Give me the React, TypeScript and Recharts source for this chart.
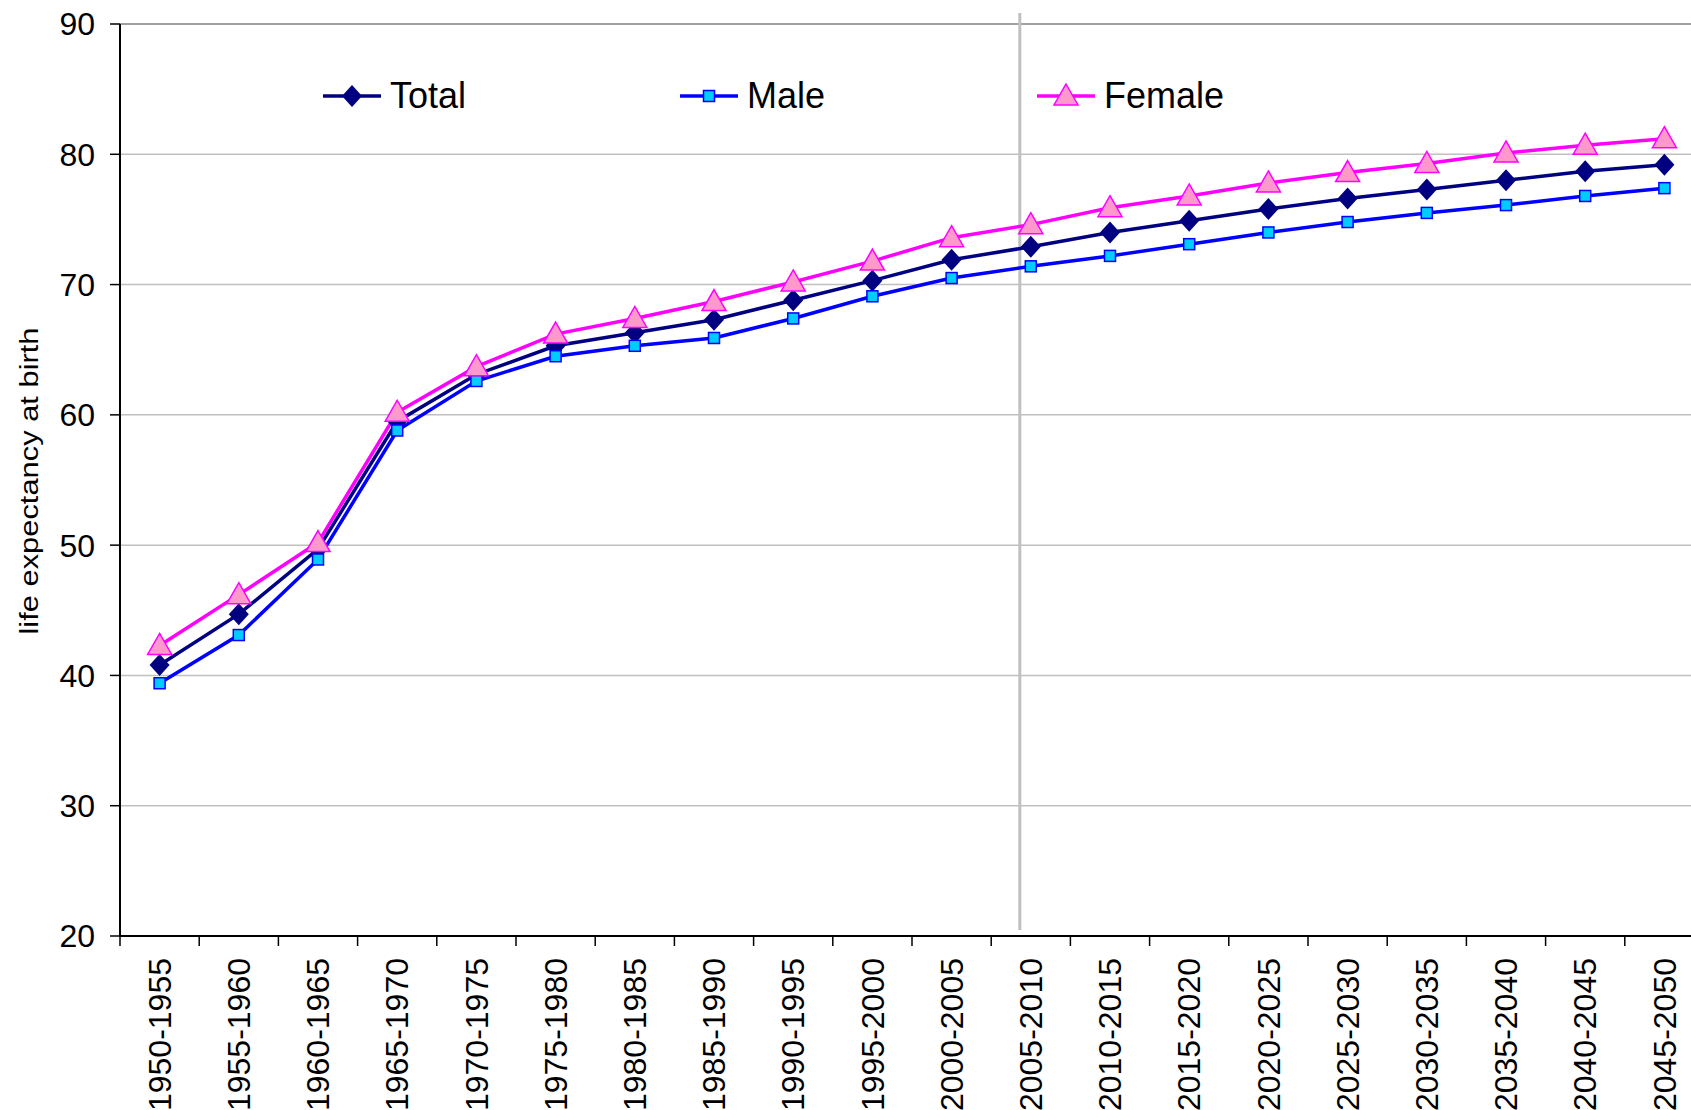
import React from 'react';
import { LineChart, Line, XAxis, YAxis, CartesianGrid, ReferenceLine, Label } from 'recharts';

const periods = [
  '1950-1955', '1955-1960', '1960-1965', '1965-1970', '1970-1975',
  '1975-1980', '1980-1985', '1985-1990', '1990-1995', '1995-2000',
  '2000-2005', '2005-2010', '2010-2015', '2015-2020', '2020-2025',
  '2025-2030', '2030-2035', '2035-2040', '2040-2045', '2045-2050',
];
const total = [40.8, 44.7, 49.7, 59.5, 63.1, 65.3, 66.3, 67.3, 68.8, 70.3, 71.9, 72.9, 74.0, 74.9, 75.8, 76.6, 77.3, 78.0, 78.7, 79.2];
const male = [39.4, 43.1, 48.9, 58.8, 62.6, 64.5, 65.3, 65.9, 67.4, 69.1, 70.5, 71.4, 72.2, 73.1, 74.0, 74.8, 75.5, 76.1, 76.8, 77.4];
const female = [42.3, 46.2, 50.2, 60.2, 63.7, 66.2, 67.4, 68.7, 70.2, 71.8, 73.6, 74.6, 75.9, 76.8, 77.8, 78.6, 79.3, 80.1, 80.7, 81.2];
const yTicks = [20, 30, 40, 50, 60, 70, 80, 90];

const series = [
  { key: 'total', name: 'Total', stroke: '#000080', fill: '#000080', marker: 'diamond' },
  { key: 'male', name: 'Male', stroke: '#0000FF', fill: '#00CCFF', marker: 'square' },
  { key: 'female', name: 'Female', stroke: '#FF00FF', fill: '#FF99CC', marker: 'triangle' },
];

const data = periods.map((period, i) => ({
  period,
  total: total[i],
  male: male[i],
  female: female[i],
}));

const FONT = '"Liberation Sans", Arial, sans-serif';
const CHART_W = 1704;
const CHART_H = 1110;
const AXIS_W = 120;
const X_AXIS_H = 174;
const BAND = (CHART_W - AXIS_W) / periods.length;

function markerShape(kind: string, cx: number, cy: number, stroke: string, fill: string, key?: string) {
  if (kind === 'diamond') {
    return (
      <polygon key={key} points={`${cx},${cy - 11} ${cx + 10},${cy} ${cx},${cy + 11} ${cx - 10},${cy}`} fill={fill} />
    );
  }
  if (kind === 'square') {
    return <rect key={key} x={cx - 5.5} y={cy - 5.5} width={11} height={11} fill={fill} stroke={stroke} strokeWidth={1.5} />;
  }
  return (
    <polygon
      key={key}
      points={`${cx},${cy - 12} ${cx + 12},${cy + 9} ${cx - 12},${cy + 9}`}
      fill={fill}
      stroke={stroke}
      strokeWidth={1.5}
    />
  );
}

const makeDot = (s: typeof series[number]) => (props: any) => {
  const { cx, cy, index } = props;
  if (cx == null || cy == null) return <g key={`${s.key}-${index}`} />;
  return markerShape(s.marker, cx, cy, s.stroke, s.fill, `${s.key}-${index}`);
};

const PeriodTick = (props: any) => {
  const { x, y, payload } = props;
  const ty = y + 22;
  return (
    <g>
      <line x1={x - BAND / 2} x2={x - BAND / 2} y1={y} y2={y + 10} stroke="#000" strokeWidth={1.5} />
      <text
        x={x}
        y={ty}
        transform={`rotate(-90 ${x} ${ty})`}
        textAnchor="end"
        dy="0.35em"
        fontSize={32}
        fontFamily={FONT}
        fill="#000"
      >
        {payload.value}
      </text>
    </g>
  );
};

const YTitle = () => (
  <text
    x={29}
    y={481}
    transform="rotate(-90 29 481)"
    textAnchor="middle"
    dy="0.35em"
    fontSize={26}
    fontFamily={FONT}
    fill="#000"
    textLength={307}
    lengthAdjust="spacingAndGlyphs"
  >
    life expectancy at birth
  </text>
);

const Divider = (props: any) => {
  const { x1, y1, y2 } = props;
  if (x1 == null) return <g />;
  return <line x1={x1 - 11} x2={x1 - 11} y1={y1 - 6} y2={y2 - 11} stroke="#c0c0c0" strokeWidth={3} />;
};

const LegendOverlay = () => (
  <div style={{ position: 'absolute', top: 76, left: 323, display: 'flex', fontFamily: FONT }}>
    {series.map((s) => (
      <div key={s.key} style={{ width: 357, display: 'flex', alignItems: 'center', height: 40 }}>
        <svg width={58} height={26}>
          <line x1={0} x2={58} y1={13} y2={13} stroke={s.stroke} strokeWidth={3.5} />
          {markerShape(s.marker, 29, 13, s.stroke, s.fill)}
        </svg>
        <span style={{ fontSize: 36, lineHeight: '40px', marginLeft: 9, color: '#000' }}>{s.name}</span>
      </div>
    ))}
  </div>
);

export default function App() {
  return (
    <div
      style={{
        position: 'absolute',
        left: 0,
        top: 0,
        width: 1691,
        height: 1110,
        overflow: 'hidden',
        background: '#fff',
      }}
    >
      <LineChart width={CHART_W} height={CHART_H} data={data} margin={{ top: 24, right: 0, bottom: 0, left: 0 }}>
        <CartesianGrid vertical={false} stroke="#c0c0c0" strokeWidth={1.5} />
        <ReferenceLine y={90} stroke="#a0a0a0" strokeWidth={2} />
        <ReferenceLine x="2005-2010" shape={Divider} />
        <XAxis
          dataKey="period"
          interval={0}
          height={X_AXIS_H}
          padding={{ left: BAND / 2, right: BAND / 2 }}
          tick={PeriodTick}
          tickLine={false}
          tickSize={0}
          tickMargin={0}
          axisLine={{ stroke: '#000', strokeWidth: 2 }}
        />
        <YAxis
          width={AXIS_W}
          domain={[20, 90]}
          ticks={yTicks}
          interval={0}
          tickSize={10}
          tickMargin={15}
          tick={{ fontSize: 32, fill: '#000', fontFamily: FONT }}
          tickLine={{ stroke: '#000', strokeWidth: 1.5 }}
          axisLine={{ stroke: '#000', strokeWidth: 2 }}
        >
          <Label content={YTitle} />
        </YAxis>
        {series.map((s) => (
          <Line
            key={s.key}
            type="linear"
            dataKey={s.key}
            name={s.name}
            stroke={s.stroke}
            strokeWidth={3.5}
            dot={makeDot(s)}
            activeDot={false}
            isAnimationActive={false}
          />
        ))}
      </LineChart>
      <LegendOverlay />
    </div>
  );
}
